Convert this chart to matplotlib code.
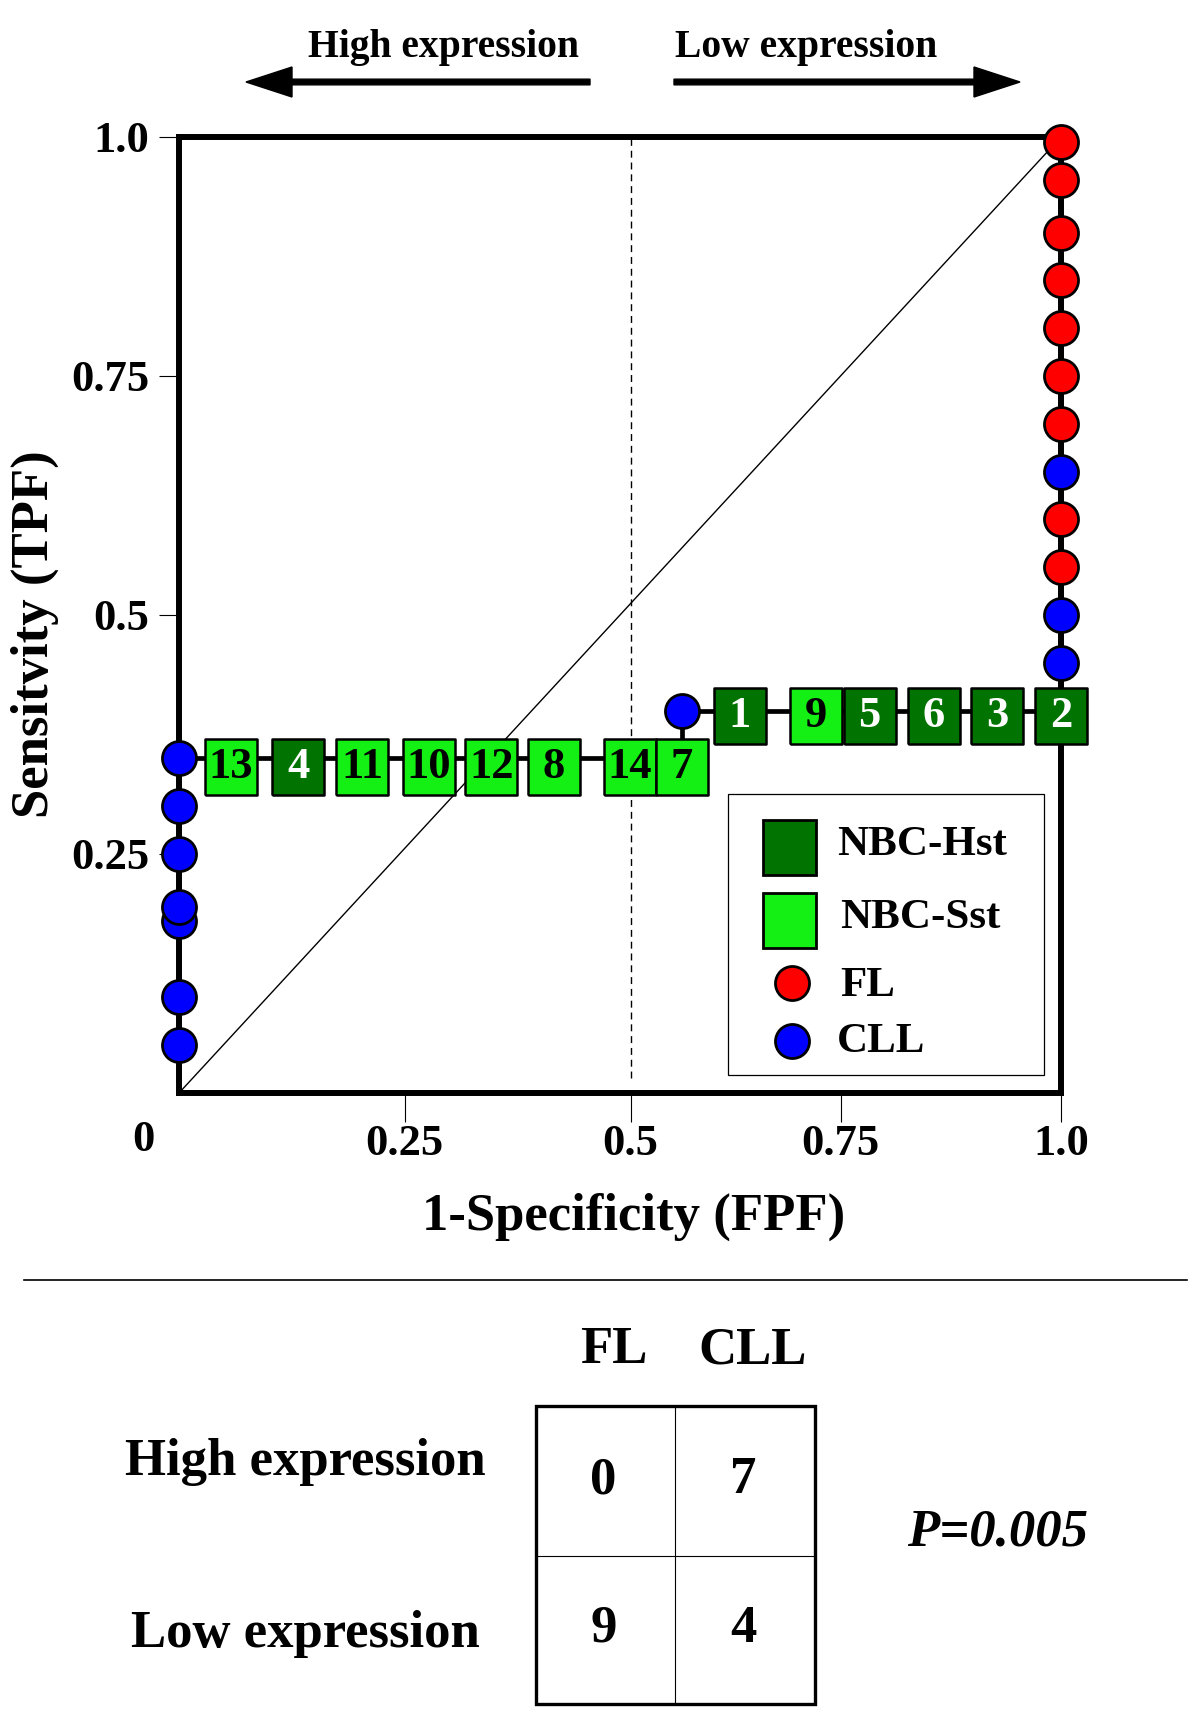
import matplotlib
matplotlib.use('Agg')
import matplotlib.pyplot as plt
from matplotlib.patches import FancyArrow, Rectangle

plt.rcParams['font.family'] = ['Liberation Serif', 'DejaVu Serif']
plt.rcParams['font.weight'] = 'bold'

# ---------------- data ----------------
left_cll_tpf = [0.05, 0.10, 0.18, 0.195, 0.25, 0.30, 0.35]          # CLL on FPF = 0
right_tpf = [0.45, 0.50, 0.55, 0.60, 0.65, 0.70, 0.75, 0.80, 0.85, 0.90, 0.955, 0.995]
right_group = ['CLL', 'CLL', 'FL', 'FL', 'CLL', 'FL', 'FL', 'FL', 'FL', 'FL', 'FL', 'FL']
mid_cll_fpf = [0.570]
mid_cll_tpf = [0.40]

sample_ids = ['13', '4', '11', '10', '12', '8', '14', '7', '1', '9', '5', '6', '3', '2']
sample_fpf = [0.059, 0.135, 0.208, 0.283, 0.354, 0.425, 0.511, 0.570,
              0.636, 0.722, 0.783, 0.856, 0.928, 1.0]
sample_tpf = [0.341] * 8 + [0.394] * 6
sample_type = ['Sst', 'Hst', 'Sst', 'Sst', 'Sst', 'Sst', 'Sst', 'Sst',
               'Hst', 'Sst', 'Hst', 'Hst', 'Hst', 'Hst']

roc_fpf = [0, 0, 0.570, 0.570, 1.0, 1.0]
roc_tpf = [0, 0.35, 0.35, 0.40, 0.40, 0.995]

xtick_pos = [0.256, 0.512, 0.75, 1.0]
xtick_labels = ['0.25', '0.5', '0.75', '1.0']
ytick_pos = [0.25, 0.5, 0.75, 1.0]
ytick_labels = ['0.25', '0.5', '0.75', '1.0']
cutoff_fpf = 0.512

table_cols = ['FL', 'CLL']
table_rows = ['High expression', 'Low expression']
table_counts = [[0, 7], [9, 4]]
p_text = 'P=0.005'

# ---------------- style ----------------
DARK = '#007300'
LIGHT = '#14f014'
RED = '#ff0000'
BLUE = '#0000ff'
type_color = {'Hst': DARK, 'Sst': LIGHT}
type_txt = {'Hst': 'white', 'Sst': 'black'}
group_color = {'FL': RED, 'CLL': BLUE}

rect_marker = [(-0.456, -0.5), (0.456, -0.5), (0.456, 0.5), (-0.456, 0.5), (-0.456, -0.5)]
CIRC_MS = 24.5

W, H = 1200, 1734
fig = plt.figure(figsize=(W / 100, H / 100), dpi=100)
fig.patch.set_facecolor('white')

ax = fig.add_axes([179 / W, 1 - 1093 / H, 882 / W, 956 / H])
ax.set_xlim(0, 1)
ax.set_ylim(0, 1)
for s in ax.spines.values():
    s.set_linewidth(4.3)
    s.set_color('black')

ax.set_xticks(xtick_pos)
ax.set_xticklabels(xtick_labels)
ax.set_yticks(ytick_pos)
ax.set_yticklabels(ytick_labels)
ax.tick_params(axis='x', direction='out', length=21, width=0.8, pad=1, labelsize=32)
ax.tick_params(axis='y', direction='out', length=14.4, width=0.8, pad=7, labelsize=32)

# diagonal and cut-off line
ax.plot([0, 1], [0, 1], color='black', lw=1.0, zorder=1, clip_on=False)
ax.plot([cutoff_fpf, cutoff_fpf], [0.016, 1.0], color='black', lw=1.0,
        dashes=(5, 3.5), zorder=1)

# ROC step line
ax.plot(roc_fpf, roc_tpf, color='black', lw=3.4, zorder=2, clip_on=False,
        solid_joinstyle='miter')

# samples (squares)
for sid, fx, ty, st in zip(sample_ids, sample_fpf, sample_tpf, sample_type):
    ax.plot([fx], [ty], marker=rect_marker, ms=41, mfc=type_color[st], mec='black',
            mew=1.8, ls='none', zorder=3, clip_on=False)
    ax.text(fx, ty, sid, ha='center', va='center', fontsize=32, color=type_txt[st],
            fontweight='bold', zorder=4, clip_on=False)

# patient circles
ax.plot([0] * len(left_cll_tpf), left_cll_tpf, 'o', ms=CIRC_MS, mfc=BLUE, mec='black',
        mew=2, zorder=5, clip_on=False)
for ty, g in zip(right_tpf, right_group):
    ax.plot([1.0], [ty], 'o', ms=CIRC_MS, mfc=group_color[g], mec='black', mew=2,
            zorder=5, clip_on=False)
ax.plot(mid_cll_fpf, mid_cll_tpf, 'o', ms=CIRC_MS, mfc=BLUE, mec='black', mew=2,
        zorder=5, clip_on=False)

# axis labels
ax.set_xlabel('1-Specificity (FPF)', fontsize=38, fontweight='bold', va='center')
ax.xaxis.set_label_coords((634 - 179) / 882, (1093 - 1217) / 956)
ax.set_ylabel('Sensitvity (TPF)', fontsize=38, fontweight='bold', va='center')
ax.yaxis.set_label_coords((35 - 179) / 882, (1093 - 634) / 956)

# ---------------- overlay (pixel coordinates) ----------------
ov = fig.add_axes([0, 0, 1, 1])
ov.set_xlim(0, W)
ov.set_ylim(H, 0)
ov.axis('off')

ov.text(143, 1140, '0', ha='center', va='center', fontsize=32, fontweight='bold')

# top annotations
ov.text(443, 48, 'High expression', ha='center', va='center', fontsize=28.5, fontweight='bold')
ov.text(806, 48, 'Low expression', ha='center', va='center', fontsize=28.5, fontweight='bold')
ov.add_patch(FancyArrow(590, 82, 246 - 590, 0, width=5.7, head_width=30, head_length=46,
                        length_includes_head=True, color='black'))
ov.add_patch(FancyArrow(674, 82, 1020 - 674, 0, width=5.7, head_width=30, head_length=46,
                        length_includes_head=True, color='black'))

# legend
ov.add_patch(Rectangle((728, 794), 316, 281, fill=False, ec='black', lw=0.9))
ov.add_patch(Rectangle((763, 820), 53, 55, fc=DARK, ec='black', lw=2.0))
ov.add_patch(Rectangle((763, 893), 53, 55, fc=LIGHT, ec='black', lw=2.0))
ov.plot([792], [983], 'o', ms=CIRC_MS, mfc=RED, mec='black', mew=2)
ov.plot([792], [1041], 'o', ms=CIRC_MS, mfc=BLUE, mec='black', mew=2)
ov.text(837, 845, 'NBC-Hst', ha='left', va='center', fontsize=31, fontweight='bold')
ov.text(840, 918, 'NBC-Sst', ha='left', va='center', fontsize=31, fontweight='bold')
ov.text(840, 986, 'FL', ha='left', va='center', fontsize=31, fontweight='bold')
ov.text(837, 1042, 'CLL', ha='left', va='center', fontsize=31, fontweight='bold')

# separator
ov.plot([24, 1187], [1280, 1280], color='black', lw=1.2)

# contingency table
bx0, bx1, by0, by1 = 536, 815, 1406, 1704
bxm, bym = 675, 1556
ov.add_patch(Rectangle((bx0, by0), bx1 - bx0, by1 - by0, fill=False, ec='black', lw=2.4))
ov.plot([bxm, bxm], [by0, by1], color='black', lw=0.8)
ov.plot([bx0, bx1], [bym, bym], color='black', lw=0.8)
col_cx = [(bx0 + bxm) / 2, (bxm + bx1) / 2]
row_cy = [(by0 + bym) / 2, (bym + by1) / 2]
header_x = [614, 753]
for hx, c in zip(header_x, table_cols):
    ov.text(hx, 1350, c, ha='center', va='center', fontsize=38, fontweight='bold')
row_lab_y = [1462, 1634]
for ly, r in zip(row_lab_y, table_rows):
    ov.text(305, ly, r, ha='center', va='center', fontsize=38, fontweight='bold')
for i, row in enumerate(table_counts):
    for j, v in enumerate(row):
        ov.text(col_cx[j] - 2, row_cy[i] - 1, str(v), ha='center', va='center',
                fontsize=38, fontweight='bold')
ov.text(998, 1532, p_text, ha='center', va='center', fontsize=38, fontweight='bold',
        style='italic')

fig.savefig('out.png', dpi=100)
